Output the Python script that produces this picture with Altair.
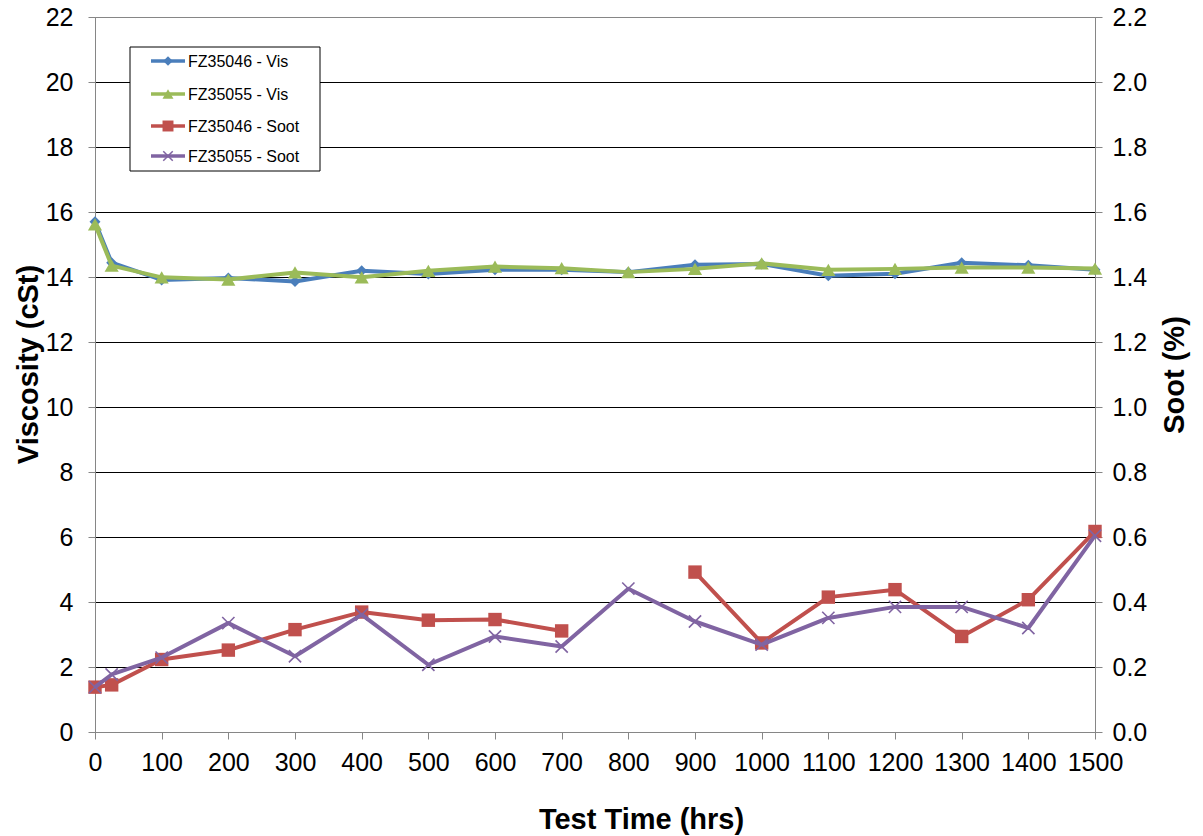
import altair as alt
import pandas as pd

# ---- data ----
hours = [0, 25, 100, 200, 300, 400, 500, 600, 700, 800, 900, 1000, 1100, 1200, 1300, 1400, 1500]
vis_fz35046 = [15.70, 14.44, 13.91, 13.97, 13.86, 14.19, 14.09, 14.22, 14.22, 14.15, 14.38, 14.40, 14.04, 14.10, 14.44, 14.36, 14.22]
vis_fz35055 = [15.62, 14.35, 13.99, 13.92, 14.14, 13.99, 14.19, 14.32, 14.27, 14.15, 14.25, 14.42, 14.22, 14.25, 14.29, 14.29, 14.26]
soot_fz35046 = [0.138, 0.145, 0.223, 0.252, 0.315, 0.369, 0.344, 0.346, 0.311, None, 0.492, 0.274, 0.415, 0.438, 0.294, 0.407, 0.617]
soot_fz35055 = [0.138, 0.177, 0.229, 0.335, 0.233, 0.361, 0.207, 0.294, 0.263, 0.441, 0.340, 0.269, 0.351, 0.385, 0.385, 0.320, 0.604]

series_names = ["FZ35046 - Vis", "FZ35055 - Vis", "FZ35046 - Soot", "FZ35055 - Soot"]
series_colors = ["#4A7EBB", "#9BBB59", "#C0504D", "#8064A2"]

x_ticks = list(range(0, 1600, 100))
vis_ticks = list(range(0, 24, 2))
soot_ticks = [round(v * 0.2, 1) for v in range(0, 12)]

FONT = "Liberation Sans"
X_PATH = "M-1,-1L1,1M-1,1L1,-1"
GRAY = "#868686"
LABEL_SIZE = 25
TITLE_SIZE = 29

x_enc = alt.X(
    "hours:Q",
    scale=alt.Scale(domain=[0, 1500], nice=False, zero=False),
    axis=alt.Axis(
        values=x_ticks, format="d", grid=False, title="Test Time (hrs)",
        labelFontSize=LABEL_SIZE, labelPadding=11, labelFont=FONT, labelColor="black",
        tickSize=7, tickColor=GRAY, domainColor=GRAY, labelFlush=False,
        titleFont=FONT, titleFontSize=TITLE_SIZE, titleFontWeight="bold", titlePadding=30,
        titleColor="black", titleX=546, titleAlign="center",
    ),
)

vis_axis = alt.Axis(
    values=vis_ticks, orient="left", title="Viscosity (cSt)",
    grid=True,
    gridColor={"condition": {"test": "datum.value === 22 || datum.value === 0", "value": GRAY}, "value": "black"},
    gridWidth=1,
    labelFontSize=LABEL_SIZE, labelPadding=15, labelFont=FONT, labelColor="black",
    tickSize=7, tickColor=GRAY, domainColor=GRAY,
    titleFont=FONT, titleFontSize=TITLE_SIZE, titleFontWeight="bold", titlePadding=2, titleColor="black",
    titleY=347, titleAlign="center",
)
soot_axis = alt.Axis(
    values=soot_ticks, orient="right", title="Soot (%)", format=".1f",
    grid=False,
    labelFontSize=LABEL_SIZE, labelPadding=10, labelFont=FONT, labelColor="black",
    tickSize=7, tickColor=GRAY, domainColor=GRAY,
    titleFont=FONT, titleFontSize=TITLE_SIZE, titleFontWeight="bold", titlePadding=14, titleColor="black",
    titleAngle=270, titleBaseline="top",
)

vis_scale = alt.Scale(domain=[0, 22], nice=False, zero=True)
soot_scale = alt.Scale(domain=[0, 2.2], nice=False, zero=True)


def series_layers(values, field, scale, axis, color, shape, size, filled):
    df = pd.DataFrame({"hours": hours, field: values})
    base = alt.Chart(df).encode(
        x=x_enc,
        y=alt.Y(f"{field}:Q", scale=scale, axis=axis),
    )
    line = base.mark_line(color=color, strokeWidth=4, strokeJoin="round")
    if filled:
        pts = base.mark_point(shape=shape, size=size, filled=True, color=color, opacity=1)
    else:
        pts = base.mark_point(shape=shape, size=size, filled=False, color=color,
                              strokeWidth=1.6, opacity=1)
    return [line, pts]


vis_group = alt.layer(
    *series_layers(vis_fz35046, "vis", vis_scale, vis_axis, series_colors[0], "diamond", 120, True),
    *series_layers(vis_fz35055, "vis", vis_scale, vis_axis, series_colors[1], "triangle-up", 200, True),
)
soot_group = alt.layer(
    *series_layers(soot_fz35046, "soot", soot_scale, soot_axis, series_colors[2], "square", 180, True),
    *series_layers(soot_fz35055, "soot", soot_scale, soot_axis, series_colors[3], X_PATH, 150, False),
)

# ---- legend drawn inside the plot area ----
legend_layers = [
    alt.Chart(alt.Data(values=[{"k": 1}])).mark_rect(
        fill="white", stroke="black", strokeWidth=1
    ).encode(x=alt.value(35), x2=alt.value(225), y=alt.value(30), y2=alt.value(154))
]
legend_shapes = [("diamond", 90, True), ("triangle-up", 120, True), ("square", 120, True), (X_PATH, 90, False)]
row_y = [44, 77, 109, 139]
for name, color, (shape, size, filled), ry in zip(series_names, series_colors, legend_shapes, row_y):
    d = alt.Data(values=[{"label": name}])
    legend_layers.append(
        alt.Chart(d).mark_rule(color=color, strokeWidth=3.5).encode(
            x=alt.value(56), x2=alt.value(90), y=alt.value(ry)
        )
    )
    if filled:
        pm = alt.Chart(d).mark_point(shape=shape, size=size, filled=True, color=color, opacity=1)
    else:
        pm = alt.Chart(d).mark_point(shape=shape, size=size, filled=False, color=color, strokeWidth=1.5, opacity=1)
    legend_layers.append(pm.encode(x=alt.value(73), y=alt.value(ry)))
    legend_layers.append(
        alt.Chart(d).mark_text(align="left", baseline="middle", font=FONT, fontSize=16, color="black").encode(
            x=alt.value(93), y=alt.value(ry + 1), text="label:N"
        )
    )

chart = (
    alt.layer(vis_group, soot_group, *legend_layers)
    .resolve_scale(y="independent")
    .properties(
        width=1000,
        height=715,
        autosize=alt.AutoSizeParams(type="none"),
        padding={"left": 87, "top": 9, "right": 100, "bottom": 108},
        background="white",
    )
    .configure_view(stroke=GRAY, strokeWidth=1)
)

chart.save("out.html", embed_options={"renderer": "svg", "actions": False})
